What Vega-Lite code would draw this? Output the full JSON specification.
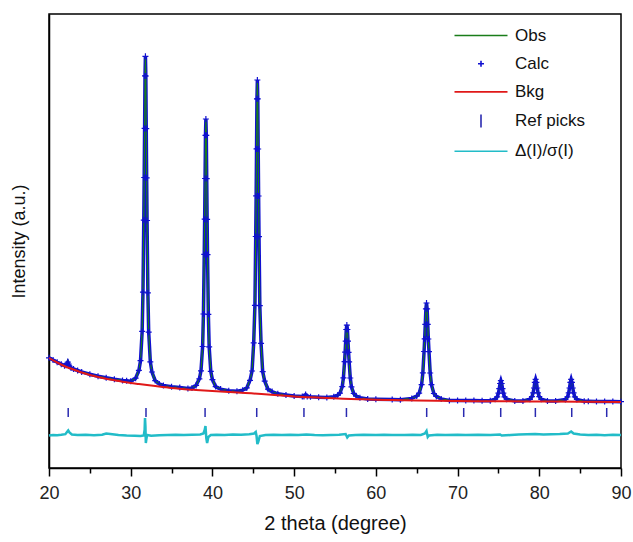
{
  "$schema": "https://vega.github.io/schema/vega-lite/v6.json",
  "width": 572,
  "height": 454,
  "autosize": {"type": "none"},
  "padding": {"left": 49, "top": 14, "right": 12, "bottom": 74},
  "background": "white",
  "config": {
    "font": "Liberation Sans",
    "view": {"stroke": "black", "strokeWidth": 1.5},
    "axis": {"grid": false, "domainColor": "black", "domainWidth": 1.5, "tickColor": "black", "tickWidth": 1.5, "labelColor": "#222222", "titleColor": "#111111", "titleFontWeight": "normal"},
    "legend": {
      "orient": "none", "legendX": 423.5, "legendY": 13, "padding": 0,
      "symbolSize": 100, "symbolStrokeWidth": 1.6, "symbolFillColor": "transparent",
      "labelFontSize": 17, "labelColor": "#111111", "labelOffset": 25.5, "rowPadding": 10.2
    }
  },
  "datasets": {
    "prof": [
      {"t":20.0,"Obs":1102,"Calc":1102},{"t":20.5,"Obs":1080,"Calc":1080},{"t":21.0,"Obs":1058,"Calc":1058},{"t":21.5,"Obs":1038,"Calc":1038},
      {"t":21.9,"Obs":1023,"Calc":1023},{"t":22.1,"Obs":1030,"Calc":1027},{"t":22.2,"Obs":1050,"Calc":1040},{"t":22.3,"Obs":1075,"Calc":1058},
      {"t":22.4,"Obs":1048,"Calc":1038},{"t":22.5,"Obs":1022,"Calc":1018},{"t":22.7,"Obs":1000,"Calc":999},{"t":23.0,"Obs":990,"Calc":990},
      {"t":23.5,"Obs":975,"Calc":975},{"t":24.0,"Obs":961,"Calc":961},{"t":25.0,"Obs":937,"Calc":937},{"t":26.0,"Obs":918,"Calc":918},
      {"t":27.0,"Obs":902,"Calc":902},{"t":28.0,"Obs":888,"Calc":888},{"t":29.0,"Obs":876,"Calc":876},{"t":29.5,"Obs":872,"Calc":872},
      {"t":30.0,"Obs":868,"Calc":868},{"t":30.6,"Obs":898,"Calc":898},{"t":31.0,"Obs":976,"Calc":976},{"t":31.2,"Obs":1073,"Calc":1073},
      {"t":31.4,"Obs":1366,"Calc":1366},{"t":31.5,"Obs":1758,"Calc":1758},{"t":31.6,"Obs":2479,"Calc":2479},{"t":31.65,"Obs":2905,"Calc":2905},
      {"t":31.7,"Obs":3396,"Calc":3396},{"t":31.75,"Obs":3921,"Calc":3921},{"t":31.8,"Obs":4117,"Calc":4117},{"t":31.85,"Obs":3920,"Calc":3920},
      {"t":31.9,"Obs":3394,"Calc":3394},{"t":31.95,"Obs":2902,"Calc":2902},{"t":32.0,"Obs":2475,"Calc":2475},{"t":32.1,"Obs":1752,"Calc":1752},
      {"t":32.2,"Obs":1358,"Calc":1358},{"t":32.4,"Obs":1061,"Calc":1061},{"t":32.6,"Obs":960,"Calc":960},{"t":33.0,"Obs":874,"Calc":874},
      {"t":33.5,"Obs":840,"Calc":840},{"t":34.0,"Obs":825,"Calc":825},{"t":35.0,"Obs":812,"Calc":812},{"t":36.0,"Obs":804,"Calc":804},
      {"t":37.0,"Obs":795,"Calc":795},{"t":37.5,"Obs":800,"Calc":800},{"t":38.0,"Obs":826,"Calc":826},{"t":38.4,"Obs":891,"Calc":891},
      {"t":38.6,"Obs":972,"Calc":972},{"t":38.8,"Obs":1215,"Calc":1215},{"t":38.9,"Obs":1540,"Calc":1540},{"t":39.0,"Obs":2136,"Calc":2136},
      {"t":39.05,"Obs":2488,"Calc":2488},{"t":39.1,"Obs":2895,"Calc":2895},{"t":39.15,"Obs":3327,"Calc":3327},{"t":39.2,"Obs":3490,"Calc":3490},
      {"t":39.25,"Obs":3327,"Calc":3327},{"t":39.3,"Obs":2894,"Calc":2894},{"t":39.35,"Obs":2486,"Calc":2486},{"t":39.4,"Obs":2134,"Calc":2134},
      {"t":39.5,"Obs":1537,"Calc":1537},{"t":39.6,"Obs":1211,"Calc":1211},{"t":39.8,"Obs":966,"Calc":966},{"t":40.0,"Obs":883,"Calc":883},
      {"t":40.4,"Obs":814,"Calc":814},{"t":41.0,"Obs":789,"Calc":789},{"t":42.0,"Obs":773,"Calc":773},{"t":43.0,"Obs":768,"Calc":768},
      {"t":43.7,"Obs":778,"Calc":778},{"t":44.2,"Obs":801,"Calc":801},{"t":44.6,"Obs":877,"Calc":877},{"t":44.85,"Obs":970,"Calc":970},
      {"t":45.05,"Obs":1251,"Calc":1251},{"t":45.2,"Obs":1626,"Calc":1626},{"t":45.3,"Obs":2315,"Calc":2315},{"t":45.35,"Obs":2721,"Calc":2721},
      {"t":45.4,"Obs":3191,"Calc":3191},{"t":45.45,"Obs":3692,"Calc":3692},{"t":45.5,"Obs":3880,"Calc":3880},{"t":45.55,"Obs":3692,"Calc":3692},
      {"t":45.6,"Obs":3190,"Calc":3190},{"t":45.65,"Obs":2720,"Calc":2720},{"t":45.7,"Obs":2313,"Calc":2313},{"t":45.8,"Obs":1623,"Calc":1623},
      {"t":45.95,"Obs":1246,"Calc":1246},{"t":46.15,"Obs":963,"Calc":963},{"t":46.4,"Obs":868,"Calc":868},{"t":46.8,"Obs":788,"Calc":788},
      {"t":47.3,"Obs":764,"Calc":764},{"t":48.0,"Obs":742,"Calc":742},{"t":49.0,"Obs":731,"Calc":731},{"t":50.0,"Obs":720,"Calc":720},
      {"t":51.0,"Obs":716,"Calc":716},{"t":51.2,"Obs":716,"Calc":716},{"t":51.4,"Obs":736,"Calc":734},{"t":51.6,"Obs":716,"Calc":716},
      {"t":52.0,"Obs":712,"Calc":712},{"t":53.0,"Obs":708,"Calc":708},{"t":54.0,"Obs":705,"Calc":705},{"t":54.85,"Obs":713,"Calc":713},
      {"t":55.33,"Obs":728,"Calc":728},{"t":55.61,"Obs":749,"Calc":749},{"t":55.89,"Obs":814,"Calc":814},{"t":56.03,"Obs":902,"Calc":902},
      {"t":56.17,"Obs":1063,"Calc":1063},{"t":56.24,"Obs":1158,"Calc":1158},{"t":56.31,"Obs":1268,"Calc":1268},{"t":56.38,"Obs":1385,"Calc":1385},
      {"t":56.45,"Obs":1429,"Calc":1429},{"t":56.52,"Obs":1385,"Calc":1385},{"t":56.59,"Obs":1268,"Calc":1268},{"t":56.66,"Obs":1157,"Calc":1157},
      {"t":56.73,"Obs":1062,"Calc":1062},{"t":56.87,"Obs":900,"Calc":900},{"t":57.01,"Obs":811,"Calc":811},{"t":57.29,"Obs":745,"Calc":745},
      {"t":57.57,"Obs":722,"Calc":722},{"t":58.05,"Obs":703,"Calc":703},{"t":59.0,"Obs":691,"Calc":691},{"t":60.0,"Obs":688,"Calc":688},
      {"t":62.0,"Obs":685,"Calc":685},{"t":63.0,"Obs":683,"Calc":683},{"t":64.4,"Obs":696,"Calc":696},{"t":65.0,"Obs":719,"Calc":719},
      {"t":65.3,"Obs":748,"Calc":748},{"t":65.6,"Obs":834,"Calc":834},{"t":65.75,"Obs":951,"Calc":951},{"t":65.9,"Obs":1165,"Calc":1165},
      {"t":65.975,"Obs":1291,"Calc":1291},{"t":66.05,"Obs":1436,"Calc":1436},{"t":66.125,"Obs":1592,"Calc":1592},{"t":66.2,"Obs":1650,"Calc":1650},
      {"t":66.275,"Obs":1592,"Calc":1592},{"t":66.35,"Obs":1436,"Calc":1436},{"t":66.425,"Obs":1290,"Calc":1290},{"t":66.5,"Obs":1164,"Calc":1164},
      {"t":66.65,"Obs":950,"Calc":950},{"t":66.8,"Obs":833,"Calc":833},{"t":67.1,"Obs":745,"Calc":745},{"t":67.4,"Obs":716,"Calc":716},
      {"t":68.0,"Obs":691,"Calc":691},{"t":69.0,"Obs":676,"Calc":676},{"t":70.0,"Obs":675,"Calc":675},{"t":71.0,"Obs":674,"Calc":674},
      {"t":72.0,"Obs":674,"Calc":674},{"t":73.0,"Obs":673,"Calc":673},{"t":74.0,"Obs":673,"Calc":673},{"t":74.6,"Obs":688,"Calc":688},
      {"t":74.85,"Obs":712,"Calc":712},{"t":75.0,"Obs":748,"Calc":748},{"t":75.1,"Obs":793,"Calc":793},{"t":75.2,"Obs":845,"Calc":845},
      {"t":75.3,"Obs":873,"Calc":873},{"t":75.4,"Obs":845,"Calc":845},{"t":75.5,"Obs":793,"Calc":793},{"t":75.6,"Obs":748,"Calc":748},
      {"t":75.75,"Obs":712,"Calc":712},{"t":76.0,"Obs":688,"Calc":688},{"t":77.0,"Obs":671,"Calc":671},{"t":78.0,"Obs":671,"Calc":671},
      {"t":78.85,"Obs":687,"Calc":687},{"t":79.1,"Obs":713,"Calc":713},{"t":79.25,"Obs":752,"Calc":752},{"t":79.35,"Obs":800,"Calc":800},
      {"t":79.45,"Obs":857,"Calc":857},{"t":79.55,"Obs":887,"Calc":887},{"t":79.65,"Obs":857,"Calc":857},{"t":79.75,"Obs":800,"Calc":800},
      {"t":79.85,"Obs":752,"Calc":752},{"t":80.0,"Obs":713,"Calc":713},{"t":80.25,"Obs":687,"Calc":687},{"t":81.0,"Obs":670,"Calc":670},
      {"t":82.0,"Obs":670,"Calc":670},{"t":83.2,"Obs":685,"Calc":685},{"t":83.45,"Obs":711,"Calc":711},{"t":83.6,"Obs":751,"Calc":751},
      {"t":83.7,"Obs":800,"Calc":800},{"t":83.8,"Obs":857,"Calc":857},{"t":83.9,"Obs":887,"Calc":887},{"t":84.0,"Obs":857,"Calc":857},
      {"t":84.1,"Obs":800,"Calc":800},{"t":84.2,"Obs":751,"Calc":751},{"t":84.35,"Obs":711,"Calc":711},{"t":84.6,"Obs":685,"Calc":685},
      {"t":85.5,"Obs":668,"Calc":668},{"t":86.0,"Obs":667,"Calc":667},{"t":87.0,"Obs":666,"Calc":666},{"t":88.0,"Obs":665,"Calc":665},
      {"t":89.0,"Obs":664,"Calc":664},{"t":90.0,"Obs":663,"Calc":663}
    ],
    "bkg": [
      {"t":20,"Bkg":1100},{"t":21,"Bkg":1055},{"t":22,"Bkg":1015},{"t":23,"Bkg":985},{"t":24,"Bkg":955},{"t":25,"Bkg":930},
      {"t":26,"Bkg":910},{"t":27,"Bkg":892},{"t":28,"Bkg":877},{"t":29,"Bkg":862},{"t":30,"Bkg":850},{"t":31,"Bkg":840},
      {"t":32,"Bkg":830},{"t":33,"Bkg":820},{"t":34,"Bkg":810},{"t":35,"Bkg":800},{"t":36,"Bkg":792},{"t":37,"Bkg":785},
      {"t":38,"Bkg":780},{"t":39,"Bkg":775},{"t":40,"Bkg":770},{"t":42,"Bkg":760},{"t":44,"Bkg":750},{"t":46,"Bkg":740},
      {"t":48,"Bkg":727},{"t":50,"Bkg":715},{"t":52,"Bkg":707},{"t":54,"Bkg":700},{"t":56,"Bkg":693},{"t":58,"Bkg":688},
      {"t":60,"Bkg":683},{"t":62,"Bkg":680},{"t":65,"Bkg":675},{"t":70,"Bkg":670},{"t":75,"Bkg":667},{"t":80,"Bkg":665},
      {"t":85,"Bkg":663},{"t":90,"Bkg":660}
    ],
    "ref": [
      {"t":22.35},{"t":31.87},{"t":39.1},{"t":45.42},{"t":51.2},{"t":56.4},{"t":66.22},{"t":70.75},{"t":75.28},{"t":79.52},{"t":83.97},{"t":88.25}
    ],
    "diff": [
      {"t":20.0,"D":325},{"t":20.5,"D":330},{"t":21.0,"D":328},{"t":21.5,"D":332},{"t":22.0,"D":338},{"t":22.2,"D":360},
      {"t":22.35,"D":375},{"t":22.5,"D":355},{"t":22.8,"D":335},{"t":23.5,"D":330},{"t":24.5,"D":333},{"t":25.5,"D":328},
      {"t":26.5,"D":332},{"t":27.0,"D":345},{"t":27.5,"D":340},{"t":28.5,"D":330},{"t":29.5,"D":325},{"t":30.5,"D":322},
      {"t":31.2,"D":320},{"t":31.6,"D":325},{"t":31.7,"D":380},{"t":31.75,"D":500},{"t":31.8,"D":420},{"t":31.85,"D":250},
      {"t":31.9,"D":280},{"t":32.0,"D":330},{"t":32.5,"D":322},{"t":33.5,"D":327},{"t":34.5,"D":330},{"t":35.5,"D":333},
      {"t":36.5,"D":330},{"t":37.5,"D":332},{"t":38.5,"D":335},{"t":38.9,"D":345},{"t":39.05,"D":380},{"t":39.15,"D":420},
      {"t":39.25,"D":300},{"t":39.35,"D":250},{"t":39.5,"D":310},{"t":39.8,"D":330},{"t":40.5,"D":332},{"t":41.5,"D":330},
      {"t":42.5,"D":335},{"t":43.5,"D":333},{"t":44.5,"D":338},{"t":45.1,"D":345},{"t":45.3,"D":360},{"t":45.4,"D":320},
      {"t":45.5,"D":240},{"t":45.6,"D":260},{"t":45.8,"D":320},{"t":46.5,"D":330},{"t":47.5,"D":332},{"t":48.5,"D":330},
      {"t":49.5,"D":333},{"t":50.5,"D":330},{"t":51.5,"D":335},{"t":52.5,"D":330},{"t":53.5,"D":328},{"t":54.5,"D":330},
      {"t":55.5,"D":332},{"t":56.3,"D":340},{"t":56.5,"D":305},{"t":56.7,"D":325},{"t":57.5,"D":330},{"t":58.5,"D":332},
      {"t":60.0,"D":330},{"t":61.0,"D":333},{"t":62.0,"D":330},{"t":63.5,"D":330},{"t":64.5,"D":332},{"t":65.5,"D":330},
      {"t":66.0,"D":345},{"t":66.2,"D":370},{"t":66.35,"D":310},{"t":66.5,"D":325},{"t":67.5,"D":332},{"t":68.5,"D":330},
      {"t":70.0,"D":333},{"t":71.0,"D":330},{"t":72.5,"D":332},{"t":74.0,"D":330},{"t":75.2,"D":335},{"t":75.4,"D":325},
      {"t":76.5,"D":330},{"t":77.5,"D":335},{"t":78.5,"D":338},{"t":79.5,"D":340},{"t":80.5,"D":336},{"t":81.5,"D":338},
      {"t":82.5,"D":340},{"t":83.5,"D":345},{"t":83.9,"D":365},{"t":84.2,"D":345},{"t":85.0,"D":335},{"t":86.0,"D":330},
      {"t":87.0,"D":333},{"t":88.0,"D":328},{"t":89.0,"D":332},{"t":90.0,"D":330}
    ]
  },
  "encoding": {
    "x": {
      "field": "t", "type": "quantitative",
      "scale": {"domain": [20, 90], "nice": false, "zero": false},
      "axis": {
        "title": "2 theta (degree)", "titleFontSize": 20, "titlePadding": 11,
        "values": [20,25,30,35,40,45,50,55,60,65,70,75,80,85,90],
        "labelExpr": "datum.value % 10 == 0 ? datum.label : ''",
        "tickSize": {"condition": {"test": "datum.value % 10 != 0", "value": 5}, "value": 8},
        "labelFontSize": 18, "labelPadding": 8, "labelFlush": false
      }
    }
  },
  "layer": [
    {
      "data": {"name": "prof"},
      "transform": [{"fold": ["Calc"], "as": ["s", "v"]}],
      "mark": {"type": "line", "strokeWidth": 3.5},
      "encoding": {
        "y": {"field": "v", "type": "quantitative", "scale": {"domain": [0, 4540], "nice": false, "zero": false},
              "axis": {"title": "Intensity (a.u.)", "titleFontSize": 18, "titlePadding": 21, "ticks": false, "labels": false}},
        "color": {"field": "s", "type": "nominal", "title": null,
                  "scale": {"domain": ["Obs", "Calc", "Bkg", "Ref picks", "Δ(I)/σ(I)"], "range": ["#1a7d1a", "#1010d0", "#e01818", "#2a2ab0", "#22bcc8"]}}
      }
    },
    {
      "data": {"name": "prof"},
      "transform": [{"fold": ["Obs"], "as": ["s", "v"]}],
      "mark": {"type": "line", "strokeWidth": 1.1},
      "encoding": {
        "y": {"field": "v", "type": "quantitative"},
        "color": {"field": "s", "type": "nominal", "title": null}
      }
    },
    {
      "data": {"name": "prof"},
      "transform": [{"fold": ["Calc"], "as": ["s", "v"]}],
      "mark": {"type": "point", "filled": false, "size": 100, "strokeWidth": 1.2, "opacity": 1},
      "encoding": {
        "y": {"field": "v", "type": "quantitative"},
        "color": {"field": "s", "type": "nominal", "title": null},
        "shape": {"field": "s", "type": "nominal", "title": null,
                  "scale": {"domain": ["Obs", "Calc", "Bkg", "Ref picks", "Δ(I)/σ(I)"],
                            "range": ["M-5.3,0L5.3,0", "M-0.6,0L0.6,0M0,-0.6L0,0.6", "M-5.3,0L5.3,0", "M0,-1.3L0,1.3", "M-5.3,0L5.3,0"]}}
      }
    },
    {
      "data": {"name": "bkg"},
      "transform": [{"fold": ["Bkg"], "as": ["s", "v"]}],
      "mark": {"type": "line", "strokeWidth": 2, "interpolate": "monotone"},
      "encoding": {
        "y": {"field": "v", "type": "quantitative"},
        "color": {"field": "s", "type": "nominal", "title": null}
      }
    },
    {
      "data": {"name": "ref"},
      "mark": {"type": "rule", "color": "#2a2ab0", "strokeWidth": 1.5},
      "encoding": {
        "y": {"datum": 510},
        "y2": {"datum": 600}
      }
    },
    {
      "data": {"name": "diff"},
      "transform": [{"fold": ["D"], "as": ["k", "v"]}],
      "mark": {"type": "line", "strokeWidth": 2.5, "color": "#22bcc8"},
      "encoding": {
        "y": {"field": "v", "type": "quantitative"}
      }
    },
    {
      "data": {"values": [{}]},
      "mark": {"type": "text", "text": "KMgF", "fontSize": 21, "align": "left", "baseline": "alphabetic", "color": "#111111"},
      "encoding": {"x": {"datum": 21.1}, "y": {"datum": 4290}}
    },
    {
      "data": {"values": [{}]},
      "mark": {"type": "text", "text": "3", "fontSize": 15, "align": "left", "baseline": "alphabetic", "color": "#111111"},
      "encoding": {"x": {"datum": 28.1}, "y": {"datum": 4235}}
    }
  ]
}
